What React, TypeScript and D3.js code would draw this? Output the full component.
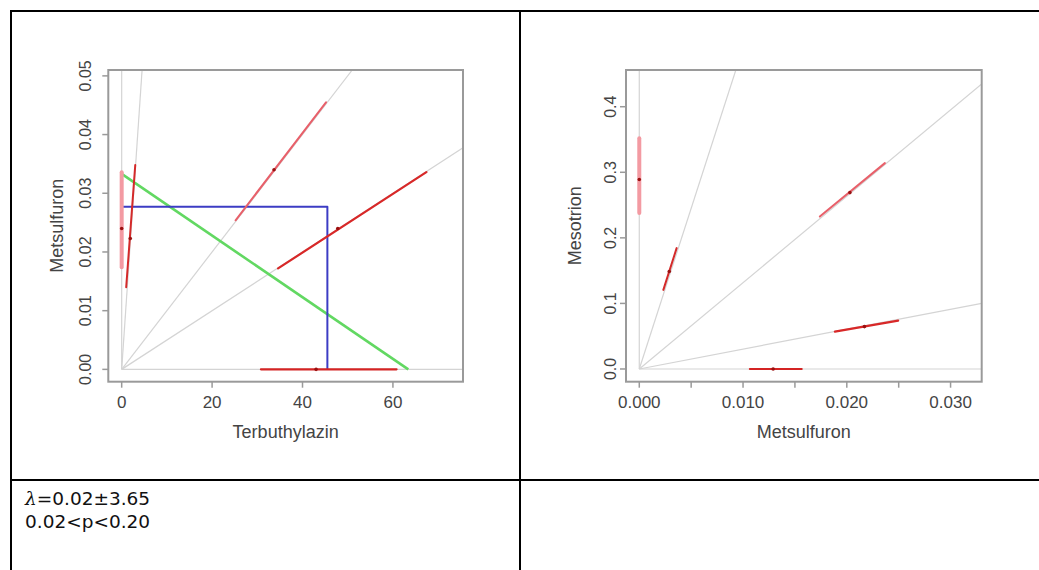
import React from "react";
import * as d3 from "d3";

// left panel: Terbuthylazin vs Metsulfuron
const leftXTicks = [0, 20, 40, 60];
const leftYTicks = [0, 0.01, 0.02, 0.03, 0.04, 0.05];
const leftRaySlopes = [Infinity, 0.0113, 0.001, 0.0005, 0];
const leftLoX = [0, 1.0, 25.2, 34.6, 30.8];
const leftLoY = [0.0174, 0.014, 0.0254, 0.0172, 0];
const leftHiX = [0, 3.0, 45.2, 67.4, 60.8];
const leftHiY = [0.0336, 0.0348, 0.0455, 0.0336, 0];
const leftEstX = [0, 1.9, 33.7, 47.8, 43];
const leftEstY = [0.024, 0.0223, 0.034, 0.024, 0];
const blueX = [0, 45.5, 45.5];
const blueY = [0.0277, 0.0277, 0];
const greenX = [0, 63.4];
const greenY = [0.0333, 0];

// right panel: Metsulfuron vs Mesotrion
const rightXTicks = [0, 0.005, 0.01, 0.015, 0.02, 0.025, 0.03];
const rightXLabels = ["0.000", "", "0.010", "", "0.020", "", "0.030"];
const rightYTicks = [0, 0.1, 0.2, 0.3, 0.4];
const rightRaySlopes = [Infinity, 49, 13.17, 3.03, 0];
const rightLoX = [0, 0.00232, 0.0174, 0.01885, 0.01066];
const rightLoY = [0.238, 0.1206, 0.2325, 0.0569, 0];
const rightHiX = [0, 0.0036, 0.02367, 0.02495, 0.01565];
const rightHiY = [0.352, 0.1843, 0.314, 0.0737, 0];
const rightEstX = [0, 0.00289, 0.0203, 0.0217, 0.0129];
const rightEstY = [0.289, 0.1486, 0.269, 0.0646, 0];

const lambdaText = "=0.02±3.65";
const pText = "0.02<p<0.20";

const FONT = "'Liberation Sans', Arial, sans-serif";
const segColor = ["#f39aa2", "#d42a2a", "#e8606a", "#d82828", "#d42424"];
const segWidth = [4, 2, 2, 2.2, 2.2];

const Panel = (props: any) => {
  const x = d3.scaleLinear().domain(props.xDomain).range(props.xRange);
  const y = d3.scaleLinear().domain(props.yDomain).range(props.yRange);
  const [x0, x1] = props.xRange;
  const [y0, y1] = props.yRange; // y0 bottom, y1 top
  const xMax = props.xDomain[1];
  const yMax = props.yDomain[1];
  const line = d3.line<number[]>().x(d => x(d[0])).y(d => y(d[1]));

  return (
    <g>
      <defs>
        <clipPath id={props.id}>
          <rect x={x0} y={y1} width={x1 - x0} height={y0 - y1} />
        </clipPath>
      </defs>
      <g clipPath={`url(#${props.id})`}>
        {props.slopes.map((s: number, i: number) => {
          let ex = xMax, ey = 0;
          if (s === Infinity) { ex = 0; ey = yMax; }
          else if (s > 0) { ex = Math.min(xMax, yMax / s); ey = ex * s; }
          return (
            <line key={i} x1={x(0)} y1={y(0)} x2={x(ex)} y2={y(ey)}
              stroke="#d4d4d4" strokeWidth={1.2} />
          );
        })}
        {props.children && props.children(x, y, line)}
        {props.loX.map((_: number, i: number) => (
          <line key={"s" + i} x1={x(props.loX[i])} y1={y(props.loY[i])}
            x2={x(props.hiX[i])} y2={y(props.hiY[i])}
            stroke={segColor[i]} strokeWidth={segWidth[i]} strokeLinecap="round" />
        ))}
        {props.estX.map((v: number, i: number) => (
          <circle key={"e" + i} cx={x(v)} cy={y(props.estY[i])} r={1.8} fill="#9a1010" />
        ))}
      </g>
      <rect x={x0} y={y1} width={x1 - x0} height={y0 - y1} fill="none" stroke="#9a9a9a" strokeWidth={2} />
      {props.xTicks.map((t: number, i: number) => (
        <g key={"xt" + i}>
          <line x1={x(t)} x2={x(t)} y1={y0} y2={y0 + 6} stroke="#9a9a9a" strokeWidth={1.5} />
          <text x={x(t)} y={402} dy="0.35em" textAnchor="middle" fontSize={17}
            fontFamily={FONT} fill="#444">{props.xLabels[i]}</text>
        </g>
      ))}
      {props.yTicks.map((t: number, i: number) => (
        <g key={"yt" + i}>
          <line x1={x0} x2={x0 - 6} y1={y(t)} y2={y(t)} stroke="#9a9a9a" strokeWidth={1.5} />
          <text transform={`translate(${props.yLabelX},${y(t)}) rotate(-90)`} dy="0.35em"
            textAnchor="middle" fontSize={16} fontFamily={FONT} fill="#444">{props.yLabels[i]}</text>
        </g>
      ))}
      <text x={(x0 + x1) / 2} y={438} textAnchor="middle" fontSize={18} fontFamily={FONT} fill="#444">
        {props.xTitle}
      </text>
      <text transform={`translate(${props.yTitleX},${(y0 + y1) / 2}) rotate(-90)`} dy="0.35em"
        textAnchor="middle" fontSize={18} fontFamily={FONT} fill="#444">{props.yTitle}</text>
    </g>
  );
};

export default function App() {
  return (
    <svg width={1039} height={570} style={{ position: "absolute", left: 0, top: 0, background: "#fff" }}>
      <rect width={1039} height={570} fill="#fff" />
      <Panel id="cl" xDomain={[-2.96, 75.5]} xRange={[108.3, 463]}
        yDomain={[-0.0021, 0.051]} yRange={[381.7, 70]}
        xTicks={leftXTicks} xLabels={leftXTicks.map(d3.format("d"))}
        yTicks={leftYTicks} yLabels={leftYTicks.map(d3.format(".2f"))}
        slopes={leftRaySlopes} loX={leftLoX} loY={leftLoY} hiX={leftHiX} hiY={leftHiY}
        estX={leftEstX} estY={leftEstY}
        xTitle="Terbuthylazin" yTitle="Metsulfuron" yLabelX={85} yTitleX={57}>
        {(x: any, y: any, line: any) => (
          <g>
            <path d={line(greenX.map((v, i) => [v, greenY[i]]))} fill="none" stroke="#62d862" strokeWidth={2.6} />
            <path d={line(blueX.map((v, i) => [v, blueY[i]]))} fill="none" stroke="#3c3cc4" strokeWidth={2}
              strokeLinejoin="round" />
          </g>
        )}
      </Panel>
      <Panel id="cr" xDomain={[-0.00128, 0.033]} xRange={[626, 981.7]}
        yDomain={[-0.0194, 0.456]} yRange={[381.7, 70]}
        xTicks={rightXTicks} xLabels={rightXLabels}
        yTicks={rightYTicks} yLabels={rightYTicks.map(d3.format(".1f"))}
        slopes={rightRaySlopes} loX={rightLoX} loY={rightLoY} hiX={rightHiX} hiY={rightHiY}
        estX={rightEstX} estY={rightEstY}
        xTitle="Metsulfuron" yTitle="Mesotrion" yLabelX={610} yTitleX={575} />
      <g stroke="#000" strokeWidth={2}>
        <line x1={10} x2={1039} y1={11} y2={11} />
        <line x1={11} x2={11} y1={10} y2={570} />
        <line x1={520} x2={520} y1={10} y2={570} />
        <line x1={10} x2={1039} y1={480} y2={480} />
      </g>
      <text x={25} y={505} fontSize={18.5} fontFamily="'DejaVu Sans', sans-serif" fill="#111">
        <tspan fontStyle="italic" fontFamily="'DejaVu Serif', serif">λ</tspan>{lambdaText}
      </text>
      <text x={25} y={528} fontSize={18.5} fontFamily="'DejaVu Sans', sans-serif" fill="#111">
        {pText}
      </text>
    </svg>
  );
}
